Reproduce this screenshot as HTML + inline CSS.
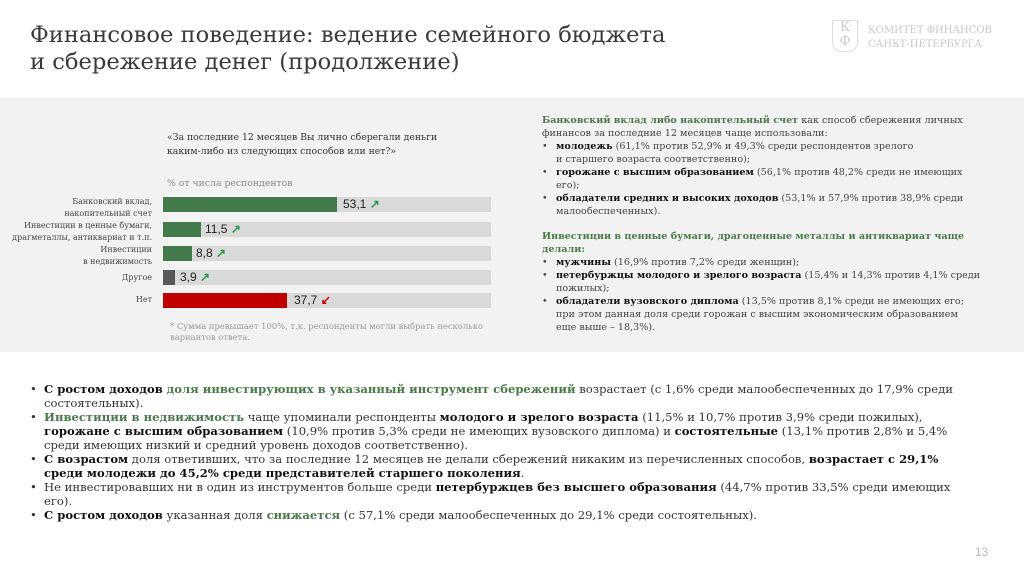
<!DOCTYPE html>
<html><head><meta charset="utf-8"><style>
body{margin:0;width:1024px;height:574px;background:#fff;position:relative;overflow:hidden;font-family:"DejaVu Serif","Liberation Serif",serif;color:#333}
.a{position:absolute;white-space:nowrap}
.title{left:30px;top:22px;font-size:22.6px;line-height:27px;color:#3a3a3a}
.panel{position:absolute;left:0;top:98px;width:1024px;height:254px;background:#f2f2f2}
.lbl{position:absolute;right:872px;text-align:right;font-size:8px;line-height:12px;color:#444;white-space:nowrap}
.track{position:absolute;left:163px;width:328px;height:15px;background:#d9d9d9}
.bar{position:absolute;left:0;top:0;height:15px}
.val{position:absolute;top:0;font-family:"Liberation Sans",sans-serif;font-size:12px;line-height:15px;color:#222;white-space:nowrap}
.up{color:#2a9a4a;font-weight:bold}.dn{color:#c00;font-weight:bold}
.rt{position:absolute;left:542px;top:114px;font-size:9.6px;line-height:13px;color:#444;white-space:nowrap}
.rt p{margin:0}
.g{color:#4a7a4a;font-weight:bold}
.rt ul,.bt ul{margin:0;padding:0;list-style:none}
.rt li{position:relative;padding-left:14px}
.rt li:before{content:"•";position:absolute;left:0}
.bt{position:absolute;left:30px;top:382px;font-size:11.6px;line-height:14px;color:#333;white-space:nowrap}
.bt li{position:relative;padding-left:14px}
.bt li:before{content:"•";position:absolute;left:0}
b{color:#111}
</style></head><body>
<div class="a title">Финансовое поведение: ведение семейного бюджета<br>и сбережение денег (продолжение)</div>
<div class="a" style="left:832px;top:20px;width:24px;height:30px;border:1px solid #ddd;border-radius:0 0 10px 10px;color:#ccc;font-size:13px;line-height:14px;text-align:center">К<br>Ф</div>
<div class="a" style="left:868px;top:24px;font-size:10px;line-height:14px;color:#c8c8c8">КОМИТЕТ ФИНАНСОВ<br>САНКТ-ПЕТЕРБУРГА</div>
<div class="panel"></div>
<div class="a" style="left:167px;top:131px;font-size:9.3px;line-height:14px;color:#333">«За последние 12 месяцев Вы лично сберегали деньги<br>каким-либо из следующих способов или нет?»</div>
<div class="a" style="left:167px;top:178px;font-size:9.3px;color:#888">% от числа респондентов</div>

<div class="lbl" style="top:196px">Банковский вклад,<br>накопительный счет</div>
<div class="track" style="top:197px"><div class="bar" style="width:174px;background:#427a4b"></div><div class="val" style="left:180px">53,1 <span class="up">↗</span></div></div>
<div class="lbl" style="top:220px">Инвестиции в ценные бумаги,<br>драгметаллы, антиквариат и т.п.</div>
<div class="track" style="top:222px"><div class="bar" style="width:38px;background:#427a4b"></div><div class="val" style="left:42px">11,5 <span class="up">↗</span></div></div>
<div class="lbl" style="top:244px">Инвестиции<br>в недвижимость</div>
<div class="track" style="top:246px"><div class="bar" style="width:29px;background:#427a4b"></div><div class="val" style="left:33px">8,8 <span class="up">↗</span></div></div>
<div class="lbl" style="top:272px">Другое</div>
<div class="track" style="top:270px"><div class="bar" style="width:12px;background:#595959"></div><div class="val" style="left:17px">3,9 <span class="up">↗</span></div></div>
<div class="lbl" style="top:294px">Нет</div>
<div class="track" style="top:293px"><div class="bar" style="width:124px;background:#c00000"></div><div class="val" style="left:131px">37,7 <span class="dn">↙</span></div></div>
<div class="a" style="left:170px;top:321px;font-size:8.4px;line-height:11px;color:#999">* Сумма превышает 100%, т.к. респонденты могли выбрать несколько<br>вариантов ответа.</div>

<div class="rt">
<p><span class="g">Банковский вклад либо накопительный счет</span> как способ сбережения личных<br>финансов за последние 12 месяцев чаще использовали:</p>
<ul>
<li><b>молодежь</b> (61,1% против 52,9% и 49,3% среди респондентов зрелого<br>и старшего возраста соответственно);</li>
<li><b>горожане с высшим образованием</b> (56,1% против 48,2% среди не имеющих<br>его);</li>
<li><b>обладатели средних и высоких доходов</b> (53,1% и 57,9% против 38,9% среди<br>малообеспеченных).</li>
</ul>
<p style="margin-top:12px"><span class="g">Инвестиции в ценные бумаги, драгоценные металлы и антиквариат чаще<br>делали:</span></p>
<ul>
<li><b>мужчины</b> (16,9% против 7,2% среди женщин);</li>
<li><b>петербуржцы молодого и зрелого возраста</b> (15,4% и 14,3% против 4,1% среди<br>пожилых);</li>
<li><b>обладатели вузовского диплома</b> (13,5% против 8,1% среди не имеющих его;<br>при этом данная доля среди горожан с высшим экономическим образованием<br>еще выше – 18,3%).</li>
</ul>
</div>

<div class="bt"><ul>
<li><b>С ростом доходов</b> <span class="g">доля инвестирующих в указанный инструмент сбережений</span> возрастает (с 1,6% среди малообеспеченных до 17,9% среди<br>состоятельных).</li>
<li><span class="g">Инвестиции в недвижимость</span> чаще упоминали респонденты <b>молодого и зрелого возраста</b> (11,5% и 10,7% против 3,9% среди пожилых),<br><b>горожане с высшим образованием</b> (10,9% против 5,3% среди не имеющих вузовского диплома) и <b>состоятельные</b> (13,1% против 2,8% и 5,4%<br>среди имеющих низкий и средний уровень доходов соответственно).</li>
<li><b>С возрастом</b> доля ответивших, что за последние 12 месяцев не делали сбережений никаким из перечисленных способов, <b>возрастает с 29,1%<br>среди молодежи до 45,2% среди представителей старшего поколения</b>.</li>
<li>Не инвестировавших ни в один из инструментов больше среди <b>петербуржцев без высшего образования</b> (44,7% против 33,5% среди имеющих<br>его).</li>
<li><b>С ростом доходов</b> указанная доля <span class="g">снижается</span> (с 57,1% среди малообеспеченных до 29,1% среди состоятельных).</li>
</ul></div>
<div class="a" style="left:975px;top:545px;font-size:12px;color:#bbb;font-family:'Liberation Sans',sans-serif">13</div>
</body></html>
